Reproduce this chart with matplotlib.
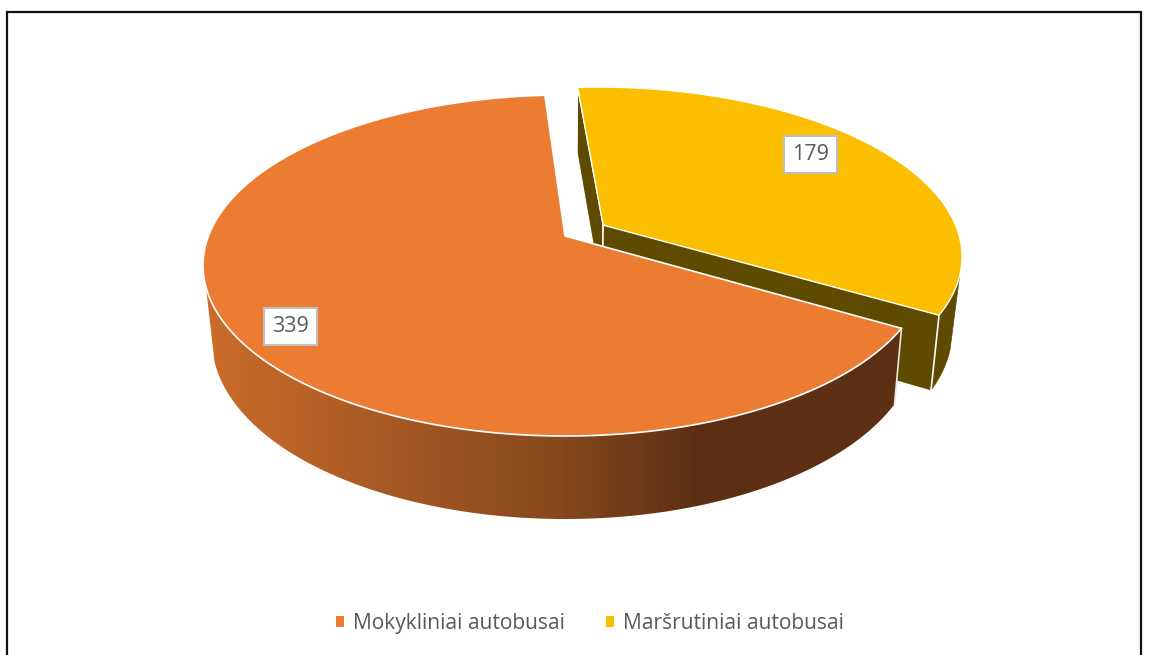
import numpy as np
import matplotlib
matplotlib.use("Agg")
import matplotlib.pyplot as plt
from matplotlib.patches import Polygon, Patch
from matplotlib.colors import LinearSegmentedColormap

labels = ["Mokykliniai autobusai", "Maršrutiniai autobusai"]
values = [339, 179]
colors = ["#EB7C32", "#FBBF00"]
wall_yellow = "#5F4B00"
wall_stops = [(0.0, "#CC6C2A"), (0.19, "#B05E26"), (0.51, "#86481D"), (0.71, "#5C2F14"), (1.0, "#5F3113")]
wall_orange = LinearSegmentedColormap.from_list("wall", wall_stops)
grey = "#595959"

# pie seen in perspective: unit circle -> pixels, one mapping for top ring and one for bottom ring
CX = 565
TOP = dict(a=356.5, b=165.4, y0=236, k=0.173)
BOT = dict(a=347.0, b=173.0, y0=307, k=0.184)
START = -3.8      # degrees clockwise from 12 o'clock, where the yellow slice begins
EXPLODE = 0.127


def proj(t, r, ring, du=0.0, dv=0.0):
    u = r * np.sin(np.radians(t)) + du
    v = -r * np.cos(np.radians(t)) + dv
    w = 1 - ring["k"] * v
    return np.column_stack([CX + ring["a"] * u / w, ring["y0"] + ring["b"] * v / w])


fig = plt.figure(figsize=(11.49, 6.55), dpi=100)
ax = fig.add_axes([0, 0, 1, 1])
ax.axis("off")

total = sum(values)
sweep_yellow = 360 * values[1] / total
mid = START + sweep_yellow / 2
du, dv = EXPLODE * np.sin(np.radians(mid)), -EXPLODE * np.cos(np.radians(mid))
ty = np.linspace(START, START + sweep_yellow, 200)
to = np.linspace(START + sweep_yellow, START + 360, 400)

# yellow slice, pulled out; outer wall only from where the rim turns to the viewer
yt = proj(ty, 1, TOP, du, dv)
yb = proj(ty, 1, BOT, du, dv)
at = proj(np.array([0.0]), 0, TOP, du, dv)[0]
ab = proj(np.array([0.0]), 0, BOT, du, dv)[0]
m = np.argmin(np.abs(yt[:, 1] - 277))
ax.add_patch(Polygon(np.vstack([yt[m:], yb[m:][::-1]]), fc=wall_yellow, ec=wall_yellow, lw=0.5, zorder=2))
ax.add_patch(Polygon([yt[0], at, ab, yb[0]], fc=wall_yellow, ec="white", lw=0.8, zorder=3))
ax.add_patch(Polygon([yt[-1], at, ab, yb[-1]], fc=wall_yellow, ec="none", zorder=3))
ax.plot(*np.vstack([at, ab]).T, color="white", lw=1.2, zorder=3.5)
ax.plot(*np.vstack([yt[-1], yb[-1]]).T, color="white", lw=1.2, zorder=3.5)
ax.add_patch(Polygon(np.vstack([at, yt]), fc=colors[1], ec="white", lw=1.0, joinstyle="round", zorder=4))

# orange slice: side wall is a horizontal gradient clipped to the visible band
ot = proj(to, 1, TOP)
ob = proj(to, 1, BOT)
oa = proj(np.array([0.0]), 0, TOP)[0]
left = to <= 290
n = np.argmin(np.abs(ot[left, 1] - 288)) + 1
wall = Polygon(np.vstack([ot[:n], ob[:n][::-1]]), fc="none", ec="none", transform=ax.transData)
ax.add_patch(wall)
grad = ax.imshow(np.linspace(0, 1, 700)[None, :], cmap=wall_orange, extent=(205, 900, 530, 250), aspect="auto",
                 interpolation="bilinear", zorder=5)
grad.set_clip_path(wall)
ax.plot(*np.vstack([ot[0], ob[0]]).T, color="#E8E4E0", lw=1.2, zorder=6)
ax.add_patch(Polygon(np.vstack([oa, ot]), fc=colors[0], ec="white", lw=1.2, joinstyle="round", zorder=7))

ax.set_xlim(0, 1149)
ax.set_ylim(655, 0)

# data labels
label_pos = [(290.5, 326.5), (810.5, 154.5)]
for pos, val in zip(label_pos, values):
    ax.text(pos[0], pos[1], str(val), ha="center", va="center", family="Open Sans", fontsize=15.5, color=grey,
            zorder=9, bbox=dict(boxstyle="square,pad=0.36", fc="white", ec="#BFBFBF", lw=1.5))

# frame, cut off at the bottom of the picture
ax.plot([7, 7, 1141, 1141], [655, 12, 12, 655], color="#111111", lw=1.6, zorder=1, solid_joinstyle="miter")

handles = [Patch(fc=c, ec="none") for c in colors]
ax.legend(handles, labels, loc="center", bbox_to_anchor=(590, 623.5), bbox_transform=ax.transData, ncol=2,
          frameon=False, handlelength=0.38, handleheight=0.38, handletextpad=0.43, columnspacing=2.0,
          prop=dict(family="Open Sans", size=15.1), labelcolor=grey)

fig.savefig("out.png", dpi=100)
